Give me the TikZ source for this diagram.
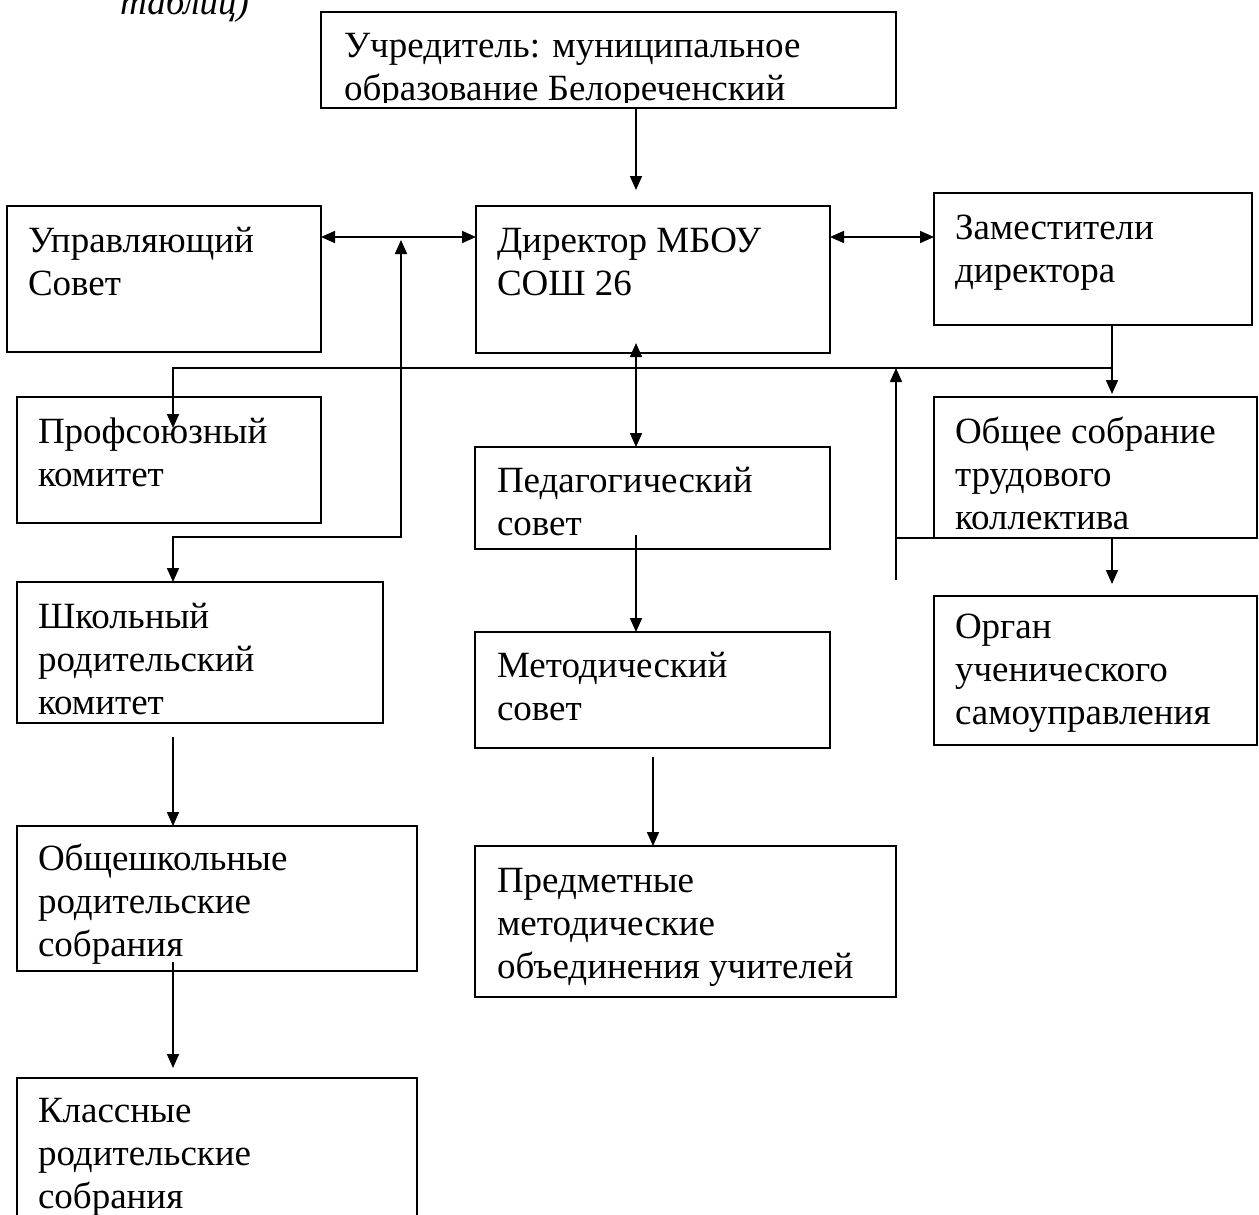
\documentclass[tikz,border=0pt]{standalone}
\usepackage{fontspec}
\setmainfont{Liberation Serif}
\usetikzlibrary{arrows.meta,calc}
\begin{document}
\begin{tikzpicture}[x=1pt,y=-1pt,
  box/.style={draw, line width=1.7pt, inner sep=0pt, outer sep=0pt, anchor=north west},
  txt/.style={anchor=north west, inner sep=0pt, outer sep=0pt, align=left, font=\fontsize{37}{43}\selectfont},
  ln/.style={line width=1.7pt},
  arr/.style={line width=1.7pt, -{Triangle[length=14pt,width=12pt]}},
  arrr/.style={line width=1.7pt, {Triangle[length=14pt,width=12pt]}-{Triangle[length=14pt,width=12pt]}}
]
\useasboundingbox (0,0) rectangle (1259,1215);
\fill[white] (0,0) rectangle (1259,1215);

% caption fragment
\node[anchor=base west, inner sep=0pt, font=\fontsize{37}{43}\selectfont\itshape] (cap) at (120,15) {таблиц)};

% boxes
\node[box, minimum width=575pt, minimum height=96pt] (uchr) at (321,12) {};
\node[box, minimum width=314pt, minimum height=146pt] (upr) at (7,206) {};
\node[box, minimum width=354pt, minimum height=147pt] (dir) at (476,206) {};
\node[box, minimum width=318pt, minimum height=132pt] (zam) at (934,193) {};
\node[box, minimum width=304pt, minimum height=126pt] (prof) at (17,397) {};
\node[box, minimum width=355pt, minimum height=102pt] (ped) at (475,447) {};
\node[box, minimum width=323pt, minimum height=141pt] (obs) at (934,397) {};
\node[box, minimum width=366pt, minimum height=141pt] (shk) at (17,582) {};
\node[box, minimum width=355pt, minimum height=116pt] (met) at (475,632) {};
\node[box, minimum width=323pt, minimum height=149pt] (org) at (934,596) {};
\node[box, minimum width=400pt, minimum height=145pt] (obsh) at (17,826) {};
\node[box, minimum width=421pt, minimum height=151pt] (pred) at (475,846) {};
\node[box, minimum width=400pt, minimum height=150pt] (kl) at (17,1078) {};

% texts
\begin{scope}
\clip (321,12) rectangle (896,102);
\node[txt] (uchr-t) at (344,27) {\rule{0pt}{30pt}Учредитель: муниципальное\\образование Белореченский};
\end{scope}
\node[txt] (upr-t) at (28,222) {\rule{0pt}{30pt}Управляющий\\Совет};
\node[txt] (dir-t) at (497,222) {\rule{0pt}{30pt}Директор МБОУ\\СОШ 26};
\node[txt] (zam-t) at (955,209) {\rule{0pt}{30pt}Заместители\\директора};
\node[txt] (prof-t) at (38,413) {\rule{0pt}{30pt}Профсоюзный\\комитет};
\node[txt] (ped-t) at (497,462) {\rule{0pt}{30pt}Педагогический\\совет};
\node[txt] (obs-t) at (955,413) {\rule{0pt}{30pt}Общее собрание\\трудового\\коллектива};
\node[txt] (shk-t) at (38,598) {\rule{0pt}{30pt}Школьный\\родительский\\комитет};
\node[txt] (met-t) at (497,647) {\rule{0pt}{30pt}Методический\\совет};
\node[txt] (org-t) at (955,608) {\rule{0pt}{30pt}Орган\\ученического\\самоуправления};
\node[txt] (obsh-t) at (38,840) {\rule{0pt}{30pt}Общешкольные\\родительские\\собрания};
\node[txt] (pred-t) at (497,862) {\rule{0pt}{30pt}Предметные\\методические\\объединения учителей};
\node[txt] (kl-t) at (38,1092) {\rule{0pt}{30pt}Классные\\родительские\\собрания};

% helper coordinates
\coordinate (a1) at (636,190);
\coordinate (h1) at (0,237);
\coordinate (h2) at (0,368);
\coordinate (xl) at (173,0);
\coordinate (xr) at (1112,0);
\coordinate (v1) at (401,240);
\coordinate (j1) at (401,537);
\coordinate (p1) at (173,428);
\coordinate (v2) at (896,580);
\coordinate (d1) at (636,343);
\coordinate (d2) at (636,535);
\coordinate (d3) at (653,757);
\coordinate (o1) at (1112,584);
\coordinate (s1) at (173,737);
\coordinate (s2) at (173,962);
\coordinate (s3) at (173,1068);

% connectors
\draw[arr] (uchr.south -| a1) -- (a1);
\draw[arrr] (upr.east |- h1) -- (dir.west |- h1);
\draw[arrr] (dir.east |- h1) -- (zam.west |- h1);
\draw[arrr] (v1) -- (j1) -| (shk.north -| xl);
\draw[arr] (zam.south -| xr) -- ($(obs.north -| xr)+(0,-3)$);
\draw[arr] (xr |- h2) -| (p1);
\draw[arr] (v2) -- (v2 |- h2);
\draw[ln] (v2 |- obs.south) -- (obs.south west);
\draw[arrr] (d1) -- (ped.north -| d1);
\draw[arr] (d2) -- (met.north -| d2);
\draw[arr] (d3) -- (pred.north -| d3);
\draw[arr] (obs.south -| xr) -- (o1);
\draw[arr] (s1) -- (obsh.north -| s1);
\draw[arr] (s2) -- (s3);
\end{tikzpicture}
\end{document}
